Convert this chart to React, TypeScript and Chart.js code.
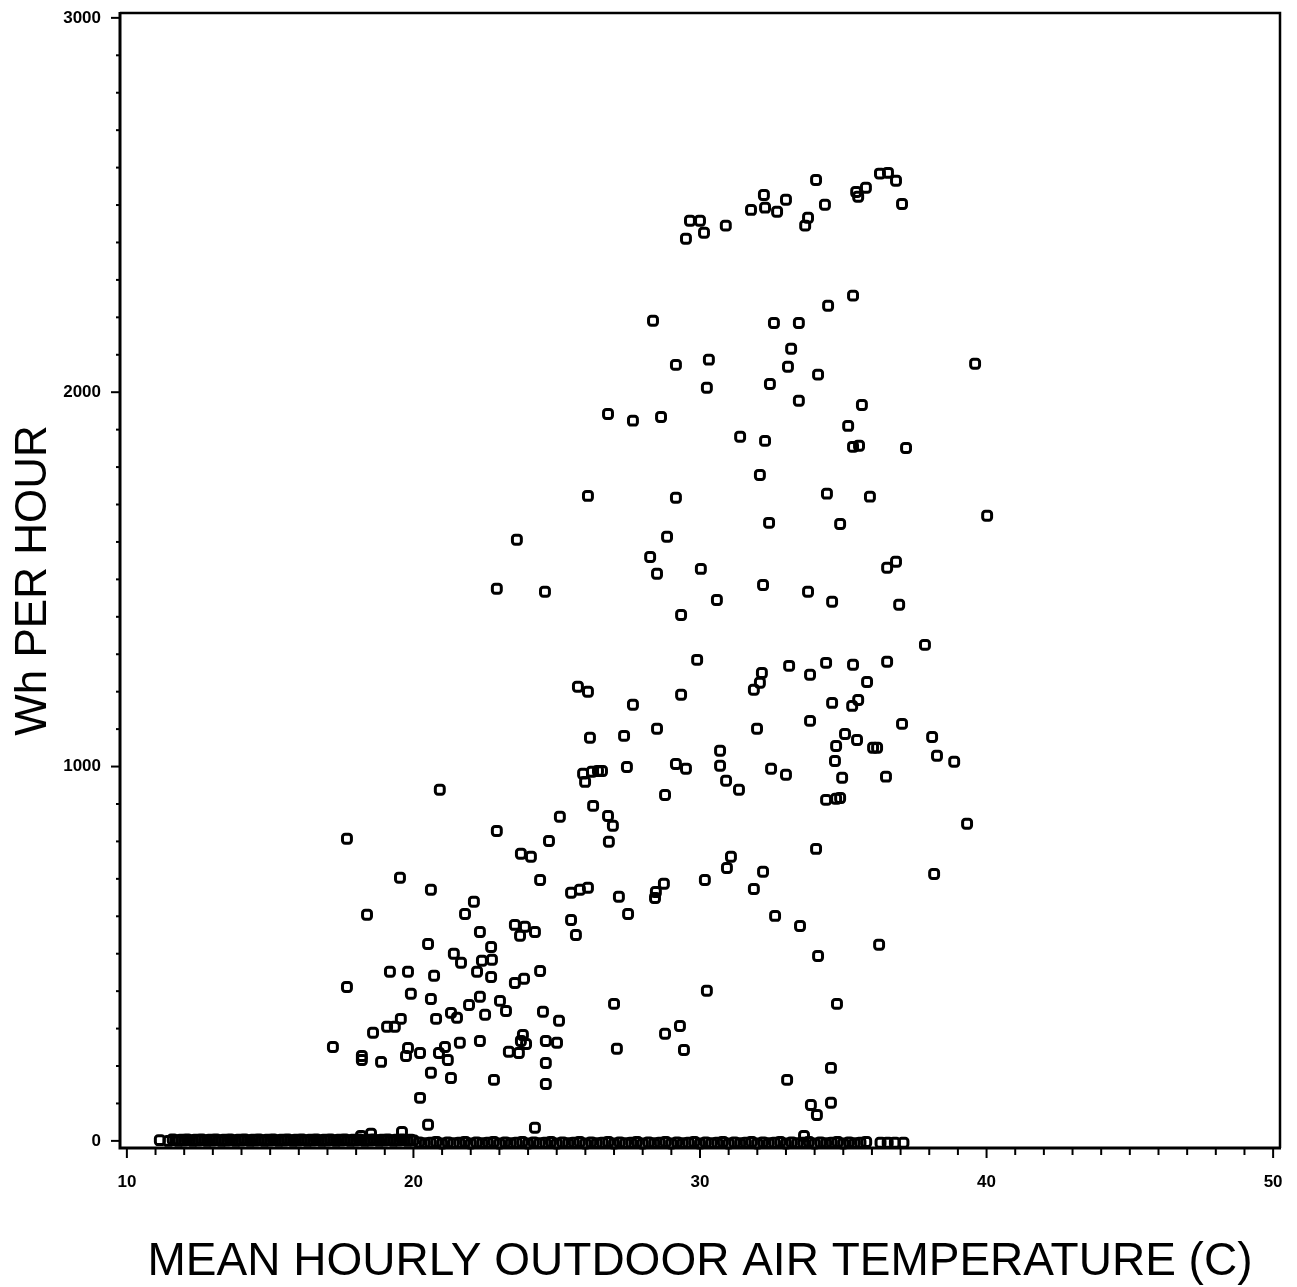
import { useEffect, useRef } from "react";
import { Chart, registerables } from "chart.js";

Chart.register(...registerables);

// ---- Axis definitions ----
const xLabelValues = [10, 20, 30, 40, 50];
const yLabelValues = [0, 1000, 2000, 3000];
const xMinorStep = 1;
const yMinorStep = 100;
const xRange = [9.76, 50.24];
const yRange = [-19, 3013];
const xTitle = "MEAN HOURLY OUTDOOR AIR TEMPERATURE (C)";
const yTitle = "Wh PER HOUR";

// ---- Data: [temperature (C), Wh per hour] ----
const topBandPoints: [number, number][] = [
  [29.51, 2410], [29.65, 2458], [30.0, 2458], [30.14, 2426], [30.9, 2445],
  [31.78, 2487], [32.23, 2527], [32.27, 2493], [32.69, 2482], [33.0, 2514],
  [33.67, 2445], [33.77, 2466], [34.05, 2567], [34.36, 2501], [35.45, 2535],
  [35.52, 2522], [35.79, 2546], [36.28, 2584], [36.56, 2586], [36.84, 2565],
  [37.05, 2503],
];

const upperPoints: [number, number][] = [
  [28.36, 2191], [34.47, 2231], [35.34, 2258], [32.58, 2185], [33.45, 2185],
  [33.18, 2116], [29.16, 2073], [30.31, 2087], [33.07, 2068], [34.12, 2047],
  [32.44, 2022], [30.24, 2012], [39.6, 2076], [33.45, 1977], [35.65, 1966],
  [26.79, 1942], [27.66, 1924], [28.64, 1934], [31.4, 1881], [32.27, 1870],
  [35.17, 1910], [35.34, 1854], [35.55, 1857], [37.19, 1851], [32.09, 1779],
  [26.09, 1723], [29.16, 1718], [34.43, 1729], [35.93, 1721], [40.02, 1670],
  [32.41, 1651], [34.89, 1648], [23.61, 1606], [28.85, 1614], [28.26, 1560],
  [28.5, 1515], [30.03, 1528], [36.84, 1547], [36.53, 1531], [22.91, 1475],
  [32.2, 1485], [33.77, 1467], [24.59, 1467], [30.59, 1445], [34.61, 1440],
  [29.34, 1405], [36.95, 1432],
];

const middlePoints: [number, number][] = [
  [37.85, 1325], [29.9, 1285], [32.16, 1250], [33.11, 1269], [34.4, 1277],
  [35.34, 1272], [36.53, 1280], [33.84, 1245], [35.83, 1226], [25.74, 1213],
  [26.09, 1200], [27.66, 1165], [29.34, 1192], [31.88, 1205], [32.09, 1224],
  [34.61, 1170], [35.52, 1178], [35.31, 1162], [33.84, 1122], [37.05, 1114],
  [31.99, 1101], [28.5, 1101], [27.35, 1082], [26.16, 1077], [30.7, 1042],
  [35.06, 1087], [35.48, 1071], [34.75, 1055], [36.04, 1050], [36.18, 1050],
  [38.1, 1079], [38.27, 1029], [38.87, 1013], [34.71, 1015], [29.16, 1007],
  [29.51, 994], [30.7, 1002], [27.45, 999], [25.92, 981], [26.23, 986],
  [26.44, 988], [26.58, 988], [25.99, 959], [32.48, 994], [33.0, 978],
  [30.91, 962], [31.36, 938], [36.49, 973], [34.96, 970], [28.78, 924],
  [34.4, 911], [34.75, 914], [34.89, 916], [20.92, 938], [26.27, 895],
  [26.79, 868], [26.96, 842], [22.91, 828], [25.11, 866], [24.73, 801],
  [26.82, 799], [17.68, 807], [39.32, 847],
];

const lowerPoints: [number, number][] = [
  [23.75, 767], [24.1, 759], [34.05, 780], [31.08, 759], [30.94, 729],
  [31.88, 673], [32.2, 719], [19.53, 703], [24.42, 697], [25.81, 671],
  [26.09, 676], [28.74, 687], [28.46, 665], [28.43, 649], [30.17, 697],
  [38.17, 713], [27.17, 652], [27.49, 606], [32.62, 601], [33.49, 574],
  [36.25, 524], [34.12, 494], [30.24, 401], [27.0, 366], [34.78, 366],
  [29.3, 307], [28.78, 286], [27.1, 246], [29.44, 243], [33.04, 163],
  [34.57, 195], [33.87, 96], [34.08, 69], [34.57, 102],
];

const warmClusterPoints: [number, number][] = [
  [20.61, 671], [25.5, 663], [22.11, 639], [18.38, 604], [21.8, 606],
  [25.5, 590], [25.67, 550], [23.54, 577], [23.89, 572], [24.24, 558],
  [23.72, 548], [22.32, 558], [20.51, 526], [22.71, 518], [21.41, 500],
  [21.66, 476], [22.39, 481], [22.74, 484], [22.22, 452], [22.71, 438],
  [19.18, 452], [19.81, 452], [20.72, 441], [24.42, 454], [23.54, 422],
  [23.86, 433], [17.68, 411], [19.91, 393], [20.61, 379], [22.32, 385],
  [21.94, 363], [23.02, 374], [23.23, 347], [22.5, 337], [24.52, 345],
  [25.08, 321], [21.31, 342], [21.52, 329], [20.79, 326], [19.56, 326],
  [19.35, 305], [19.08, 305], [18.59, 289], [23.82, 283], [23.75, 267],
  [23.93, 259], [24.62, 267], [25.01, 262], [22.32, 267], [21.62, 262],
  [23.33, 238], [23.68, 235], [17.19, 251], [18.2, 227], [18.2, 216],
  [18.87, 211], [19.81, 248], [19.74, 227], [20.23, 235], [21.1, 251],
  [20.89, 235], [21.2, 216], [24.62, 208], [20.61, 182], [21.31, 168],
  [22.81, 163], [24.62, 152], [20.23, 115],
];

const nearZeroPoints: [number, number][] = [
  [20.51, 43], [24.24, 35], [19.6, 24], [18.52, 19], [18.17, 13], [33.63, 13],
];

// zero-consumption hours, cool range (dense solid band)
const baselineCoolPoints: [number, number][] = [
  [11.15, 2], [11.45, 0], [11.6, 4], [11.7, 2], [11.8, 0], [11.9, 3], [12.0, 1], [12.1, 4],
  [12.2, 2], [12.3, 0], [12.4, 3], [12.5, 1], [12.6, 4], [12.7, 2], [12.8, 0], [12.9, 3],
  [13.0, 1], [13.1, 4], [13.2, 2], [13.3, 0], [13.4, 3], [13.5, 1], [13.6, 4], [13.7, 2],
  [13.8, 0], [13.9, 3], [14.0, 1], [14.1, 4], [14.2, 2], [14.3, 0], [14.4, 3], [14.5, 1],
  [14.6, 4], [14.7, 2], [14.8, 0], [14.9, 3], [15.0, 1], [15.1, 4], [15.2, 2], [15.3, 0],
  [15.4, 3], [15.5, 1], [15.6, 4], [15.7, 2], [15.8, 0], [15.9, 3], [16.0, 1], [16.1, 4],
  [16.2, 2], [16.3, 0], [16.4, 3], [16.5, 1], [16.6, 4], [16.7, 2], [16.8, 0], [16.9, 3],
  [17.0, 1], [17.1, 4], [17.2, 2], [17.3, 0], [17.4, 3], [17.5, 1], [17.6, 4], [17.7, 2],
  [17.8, 0], [17.9, 3], [18.0, 1], [18.1, 4], [18.2, 2], [18.3, 0], [18.4, 3], [18.5, 1],
  [18.6, 4], [18.7, 2], [18.8, 0], [18.9, 3], [19.0, 1], [19.1, 4], [19.2, 2], [19.3, 0],
  [19.4, 3], [19.5, 1], [19.6, 4], [19.7, 2], [19.8, 0], [19.9, 3], [20.0, 1],
];

// zero-consumption hours, warm range
const baselineWarmPoints: [number, number][] = [
  [20.2, -4], [20.4, -6], [20.6, -5], [20.8, -3], [21.0, -7], [21.2, -4], [21.4, -6],
  [21.6, -5], [21.8, -3], [22.0, -7], [22.2, -4], [22.4, -6], [22.6, -5], [22.8, -3],
  [23.0, -7], [23.2, -4], [23.4, -6], [23.6, -5], [23.8, -3], [24.0, -7], [24.2, -4],
  [24.4, -6], [24.6, -5], [24.8, -3], [25.0, -7], [25.2, -4], [25.4, -6], [25.6, -5],
  [25.8, -3], [26.0, -7], [26.2, -4], [26.4, -6], [26.6, -5], [26.8, -3], [27.0, -7],
  [27.2, -4], [27.4, -6], [27.6, -5], [27.8, -3], [28.0, -7], [28.2, -4], [28.4, -6],
  [28.6, -5], [28.8, -3], [29.0, -7], [29.2, -4], [29.4, -6], [29.6, -5], [29.8, -3],
  [30.0, -7], [30.2, -4], [30.4, -6], [30.6, -5], [30.8, -3], [31.0, -7], [31.2, -4],
  [31.4, -6], [31.6, -5], [31.8, -3], [32.0, -7], [32.2, -4], [32.4, -6], [32.6, -5],
  [32.8, -3], [33.0, -7], [33.2, -4], [33.4, -6], [33.6, -5], [33.8, -3], [34.0, -7],
  [34.2, -4], [34.4, -6], [34.6, -5], [34.8, -3], [35.0, -7], [35.2, -4], [35.4, -6],
  [35.6, -5], [35.8, -3], [36.3, -5], [36.55, -5], [36.8, -5], [37.1, -5],
];

const allPoints = [
  ...baselineCoolPoints,
  ...baselineWarmPoints,
  ...nearZeroPoints,
  ...warmClusterPoints,
  ...lowerPoints,
  ...middlePoints,
  ...upperPoints,
  ...topBandPoints,
];

const framePlugin = {
  id: "frame",
  afterDraw(chart: any) {
    const { ctx, chartArea, scales } = chart;
    const { left, right, top, bottom } = chartArea;
    const xs = scales.x;
    const ys = scales.y;
    ctx.save();
    ctx.strokeStyle = "#000";
    ctx.lineCap = "butt";
    ctx.lineWidth = 2.5;
    ctx.beginPath();
    ctx.moveTo(left, top);
    ctx.lineTo(right, top);
    ctx.lineTo(right, bottom);
    ctx.stroke();
    ctx.lineWidth = 3;
    ctx.beginPath();
    ctx.moveTo(left, top - 1);
    ctx.lineTo(left, bottom);
    ctx.lineTo(right + 1, bottom);
    ctx.stroke();
    ctx.lineWidth = 2;
    for (const t of xs.ticks) {
      const px = xs.getPixelForValue(t.value);
      const major = xLabelValues.includes(t.value);
      ctx.beginPath();
      ctx.moveTo(px, bottom);
      ctx.lineTo(px, bottom + (major ? 10 : 7));
      ctx.stroke();
    }
    for (const t of ys.ticks) {
      const py = ys.getPixelForValue(t.value);
      const major = yLabelValues.includes(t.value);
      ctx.beginPath();
      ctx.moveTo(left, py);
      ctx.lineTo(left - (major ? 9 : 4), py);
      ctx.stroke();
    }
    ctx.restore();
  },
};

function buildTicks(from: number, to: number, step: number) {
  const out: { value: number }[] = [];
  const n = Math.round((to - from) / step);
  for (let i = 0; i <= n; i++) out.push({ value: Math.round((from + i * step) * 1000) / 1000 });
  return out;
}

export default function App() {
  const ref = useRef<HTMLCanvasElement>(null);
  useEffect(() => {
    document.body.style.margin = "0";
    const tickFont = { family: "'Liberation Sans', Arial, sans-serif", size: 17, weight: "bold" as const };
    const chart = new Chart(ref.current!, {
      type: "scatter",
      data: {
        datasets: [
          {
            data: allPoints.map(([x, y]) => ({ x, y })),
            pointStyle: "rectRounded",
            pointRadius: 5.2,
            pointHoverRadius: 5.2,
            borderColor: "#000",
            backgroundColor: "rgba(255,255,255,0)",
            borderWidth: 3,
            clip: false,
          },
        ],
      },
      options: {
        responsive: false,
        animation: false,
        devicePixelRatio: 1,
        events: [],
        layout: { padding: { top: 13, right: 17, left: 0, bottom: 0 } },
        plugins: { legend: { display: false }, tooltip: { enabled: false } },
        scales: {
          x: {
            type: "linear",
            min: xRange[0],
            max: xRange[1],
            afterFit: (s: any) => {
              s.height = 139;
              s.paddingLeft = 0;
              s.paddingRight = 0;
              s.paddingTop = 0;
              s.paddingBottom = 0;
            },
            afterBuildTicks: (s: any) => {
              s.ticks = buildTicks(xLabelValues[0], xLabelValues[xLabelValues.length - 1], xMinorStep);
            },
            ticks: {
              autoSkip: false,
              maxRotation: 0,
              minRotation: 0,
              padding: 24,
              color: "#000",
              font: tickFont,
              callback: (v: any) => (xLabelValues.includes(Number(v)) ? String(v) : ""),
            },
            grid: { display: false, drawTicks: false },
            border: { display: false },
            title: {
              display: true,
              text: xTitle,
              color: "#000",
              font: { family: "'Liberation Sans', Arial, sans-serif", size: 46, lineHeight: 1.2 },
              padding: { top: 0, bottom: -3 },
            },
          },
          y: {
            type: "linear",
            min: yRange[0],
            max: yRange[1],
            afterFit: (s: any) => {
              s.width = 120;
              s.paddingLeft = 0;
              s.paddingRight = 0;
              s.paddingTop = 0;
              s.paddingBottom = 0;
            },
            afterBuildTicks: (s: any) => {
              s.ticks = buildTicks(yLabelValues[0], yLabelValues[yLabelValues.length - 1], yMinorStep);
            },
            ticks: {
              autoSkip: false,
              padding: 19,
              color: "#000",
              font: tickFont,
              callback: (v: any) => (yLabelValues.includes(Number(v)) ? String(v) : ""),
            },
            grid: { display: false, drawTicks: false },
            border: { display: false },
            title: {
              display: true,
              text: yTitle,
              color: "#000",
              font: { family: "'Liberation Sans', Arial, sans-serif", size: 44, lineHeight: 1.2 },
              padding: { top: 7, bottom: 0 },
            },
          },
        },
      },
      plugins: [framePlugin],
    });
    return () => chart.destroy();
  }, []);
  return <canvas ref={ref} width={1297} height={1287} style={{ display: "block" }} />;
}
